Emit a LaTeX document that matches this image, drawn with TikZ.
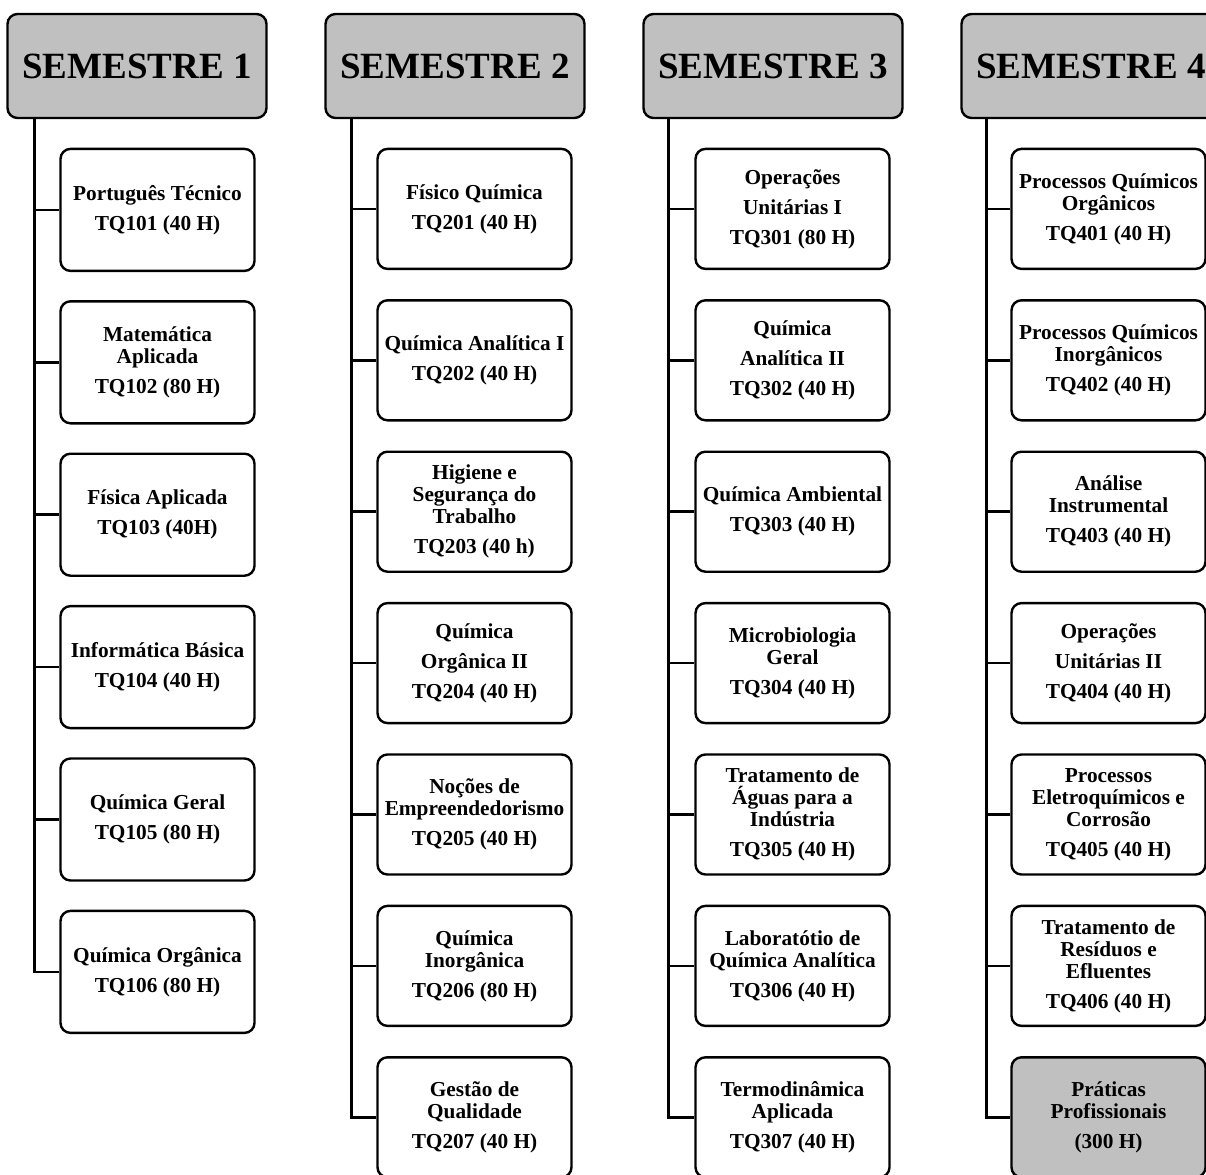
\documentclass[tikz,border=0pt]{standalone}
\usepackage{fontspec}
\setmainfont{Liberation Serif}
\usepackage{xcolor}
\usetikzlibrary{positioning}

\definecolor{headgray}{RGB}{192,192,192}

\tikzset{
  semhead/.style={draw, fill=headgray, line width=2.4pt, rounded corners=10pt,
    minimum width=259pt, minimum height=104pt, inner sep=0pt,
    font=\fontsize{37pt}{39pt}\selectfont\bfseries},
  course/.style={draw, fill=white, line width=2.4pt, rounded corners=10pt,
    minimum width=194pt, minimum height=120pt, inner sep=2pt, align=center,
    font=\fontsize{21.3pt}{22pt}\selectfont\bfseries},
  tall/.style={minimum height=122pt},
  tree/.style={line width=2.6pt},
}

\begin{document}
\begin{tikzpicture}[x=1pt, y=-1pt, node distance=29pt]
        \useasboundingbox (0,0) rectangle (1206,1174);

        % semester headers
        \node[semhead] (s1) at (137,66) {SEMESTRE 1};
        \node[semhead] (s2) at (455,66) {SEMESTRE 2};
        \node[semhead] (s3) at (773,66) {SEMESTRE 3};
        \node[semhead] (s4) at (1091,66) {SEMESTRE 4};

        % semester 1
        \node[course, tall, below=28.5pt of s1.south west, anchor=north west, xshift=53pt] (tq101) {Português Técnico\\[8pt]TQ101 (40 H)};
        \node[course, tall, below=28pt of tq101] (tq102) {Matemática\\Aplicada\\[8pt]TQ102 (80 H)};
        \node[course, tall, below=28pt of tq102] (tq103) {Física Aplicada\\[8pt]TQ103 (40H)};
        \node[course, tall, below=28pt of tq103] (tq104) {Informática Básica\\[8pt]TQ104 (40 H)};
        \node[course, tall, below=28pt of tq104] (tq105) {Química Geral\\[8pt]TQ105 (80 H)};
        \node[course, tall, below=28pt of tq105] (tq106) {Química Orgânica\\[8pt]TQ106 (80 H)};

        % semester 2
        \node[course, below=28.5pt of s2.south west, anchor=north west, xshift=52pt] (tq201) {Físico Química\\[8pt]TQ201 (40 H)};
        \node[course, below=of tq201] (tq202) {Química Analítica I\\[8pt]TQ202 (40 H)};
        \node[course, below=of tq202] (tq203) {Higiene e\\Segurança do\\Trabalho\\[8pt]TQ203 (40 h)};
        \node[course, below=of tq203] (tq204) {Química\\[8pt]Orgânica II\\[8pt]TQ204 (40 H)};
        \node[course, below=of tq204] (tq205) {Noções de\\Empreendedorismo\\[8pt]TQ205 (40 H)};
        \node[course, below=of tq205] (tq206) {Química\\Inorgânica\\[8pt]TQ206 (80 H)};
        \node[course, below=of tq206] (tq207) {Gestão de\\Qualidade\\[8pt]TQ207 (40 H)};

        % semester 3
        \node[course, below=28.5pt of s3.south west, anchor=north west, xshift=52pt] (tq301) {Operações\\[8pt]Unitárias I\\[8pt]TQ301 (80 H)};
        \node[course, below=of tq301] (tq302) {Química\\[8pt]Analítica II\\[8pt]TQ302 (40 H)};
        \node[course, below=of tq302] (tq303) {Química Ambiental\\[8pt]TQ303 (40 H)};
        \node[course, below=of tq303] (tq304) {Microbiologia\\Geral\\[8pt]TQ304 (40 H)};
        \node[course, below=of tq304] (tq305) {Tratamento de\\Águas para a\\Indústria\\[8pt]TQ305 (40 H)};
        \node[course, below=of tq305] (tq306) {Laboratótio de\\Química Analítica\\[8pt]TQ306 (40 H)};
        \node[course, below=of tq306] (tq307) {Termodinâmica\\Aplicada\\[8pt]TQ307 (40 H)};

        % semester 4
        \node[course, below=28.5pt of s4.south west, anchor=north west, xshift=50pt] (tq401) {Processos Químicos\\Orgânicos\\[8pt]TQ401 (40 H)};
        \node[course, below=of tq401] (tq402) {Processos Químicos\\Inorgânicos\\[8pt]TQ402 (40 H)};
        \node[course, below=of tq402] (tq403) {Análise\\Instrumental\\[8pt]TQ403 (40 H)};
        \node[course, below=of tq403] (tq404) {Operações\\[8pt]Unitárias II\\[8pt]TQ404 (40 H)};
        \node[course, below=of tq404] (tq405) {Processos\\Eletroquímicos e\\Corrosão\\[8pt]TQ405 (40 H)};
        \node[course, below=of tq405] (tq406) {Tratamento de\\Resíduos e\\Efluentes\\[8pt]TQ406 (40 H)};
        \node[course, fill=headgray, below=of tq406] (pp) {Práticas\\Profissionais\\[8pt](300 H)};

        % spines
        \coordinate (sp1) at ([xshift=28pt]s1.south west);
        \coordinate (sp2) at ([xshift=27pt]s2.south west);
        \coordinate (sp3) at ([xshift=26pt]s3.south west);
        \coordinate (sp4) at ([xshift=26pt]s4.south west);

        \draw[tree] (sp1) |- (tq106.west);
        \draw[tree] (sp2) |- (tq207.west);
        \draw[tree] (sp3) |- (tq307.west);
        \draw[tree] (sp4) |- (pp.west);

        % branches
        \draw[tree] (tq101.west) -- (tq101.west -| sp1);
        \draw[tree] (tq102.west) -- (tq102.west -| sp1);
        \draw[tree] (tq103.west) -- (tq103.west -| sp1);
        \draw[tree] (tq104.west) -- (tq104.west -| sp1);
        \draw[tree] (tq105.west) -- (tq105.west -| sp1);

        \draw[tree] (tq201.west) -- (tq201.west -| sp2);
        \draw[tree] (tq202.west) -- (tq202.west -| sp2);
        \draw[tree] (tq203.west) -- (tq203.west -| sp2);
        \draw[tree] (tq204.west) -- (tq204.west -| sp2);
        \draw[tree] (tq205.west) -- (tq205.west -| sp2);
        \draw[tree] (tq206.west) -- (tq206.west -| sp2);

        \draw[tree] (tq301.west) -- (tq301.west -| sp3);
        \draw[tree] (tq302.west) -- (tq302.west -| sp3);
        \draw[tree] (tq303.west) -- (tq303.west -| sp3);
        \draw[tree] (tq304.west) -- (tq304.west -| sp3);
        \draw[tree] (tq305.west) -- (tq305.west -| sp3);
        \draw[tree] (tq306.west) -- (tq306.west -| sp3);

        \draw[tree] (tq401.west) -- (tq401.west -| sp4);
        \draw[tree] (tq402.west) -- (tq402.west -| sp4);
        \draw[tree] (tq403.west) -- (tq403.west -| sp4);
        \draw[tree] (tq404.west) -- (tq404.west -| sp4);
        \draw[tree] (tq405.west) -- (tq405.west -| sp4);
        \draw[tree] (tq406.west) -- (tq406.west -| sp4);
\end{tikzpicture}
\end{document}
